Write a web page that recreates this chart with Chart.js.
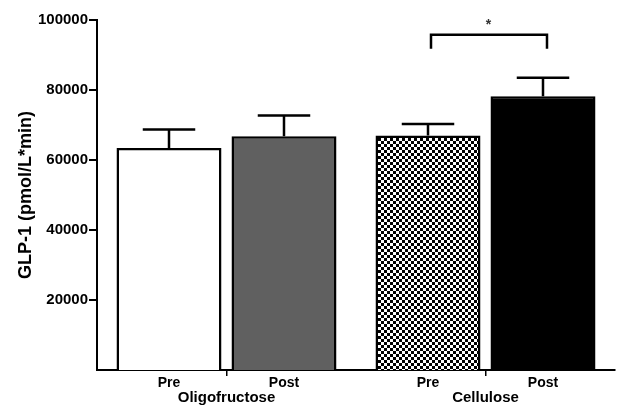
<!DOCTYPE html>
<html>
<head>
<meta charset="utf-8">
<script src="https://cdn.jsdelivr.net/npm/chart.js@4.4.0/dist/chart.umd.min.js"></script>
<style>
    body { margin: 0; background: #fff; }
    #wrap { width: 630px; height: 416px; }
</style>
</head>
<body>
<div id="wrap"><canvas id="glpChart"></canvas></div>
<script>
// data
var groups = ['Oligofructose', 'Cellulose'];
var phases = ['Pre', 'Post'];
var preValues = [63400, 67000];
var postValues = [66800, 78200];
var preErr = [5300, 3300];
var postErr = [5900, 5300];
var yTicks = [20000, 40000, 60000, 80000, 100000];
var sigLevel = 95800;
var sigText = '*';

// checkerboard for cellulose pre
function makeChecker() {
    var c = document.createElement('canvas');
    c.width = 6; c.height = 6;
    var g = c.getContext('2d');
    g.fillStyle = '#fff';
    g.fillRect(0, 0, 6, 6);
    g.fillStyle = '#000';
    g.fillRect(0, 0, 3, 3);
    g.fillRect(3, 3, 3, 3);
    return document.getElementById('glpChart').getContext('2d').createPattern(c, 'repeat');
}
var checker = makeChecker();

var font = 'Arial, "Liberation Sans", sans-serif';

// error bars, pre/post labels, significance bracket
var extras = {
    id: 'extras',
    afterDatasetsDraw: function (chart) {
        var ctx = chart.ctx;
        var y = chart.scales.y;
        var errs = [preErr, postErr];
        var vals = [preValues, postValues];
        ctx.save();
        ctx.strokeStyle = '#000';
        ctx.lineWidth = 2.5;
        for (var d = 0; d < 2; d++) {
            var meta = chart.getDatasetMeta(d);
            meta.data.forEach(function (bar, i) {
                var top = y.getPixelForValue(vals[d][i] + errs[d][i]);
                var base = y.getPixelForValue(vals[d][i]);
                var half = bar.width / 4;
                ctx.beginPath();
                ctx.moveTo(bar.x, base);
                ctx.lineTo(bar.x, top);
                ctx.moveTo(bar.x - half, top);
                ctx.lineTo(bar.x + half, top);
                ctx.stroke();

                ctx.fillStyle = '#000';
                ctx.font = 'bold 14px ' + font;
                ctx.textAlign = 'center';
                ctx.textBaseline = 'middle';
                ctx.fillText(phases[d], bar.x, chart.chartArea.bottom + 13);
            });
        }
        // bracket between cellulose pre and post
        var a = chart.getDatasetMeta(0).data[1];
        var b = chart.getDatasetMeta(1).data[1];
        var ly = y.getPixelForValue(sigLevel);
        var ld = y.getPixelForValue(sigLevel - 4000);
        ctx.beginPath();
        ctx.moveTo(a.x + 3, ld);
        ctx.lineTo(a.x + 3, ly);
        ctx.lineTo(b.x + 4, ly);
        ctx.lineTo(b.x + 4, ld);
        ctx.stroke();
        ctx.font = 'bold 14px ' + font;
        ctx.fillStyle = '#333';
        ctx.textAlign = 'center';
        ctx.textBaseline = 'middle';
        ctx.fillText(sigText, (a.x + b.x) / 2 + 3, ly - 10);
        ctx.restore();
    }
};

new Chart(document.getElementById('glpChart'), {
    type: 'bar',
    data: {
        labels: groups,
        datasets: [{
            label: 'Pre',
            data: preValues,
            backgroundColor: ['#ffffff', checker],
            borderColor: '#000',
            borderWidth: 2.5,
            barPercentage: 0.913,
            categoryPercentage: 0.888
        }, {
            label: 'Post',
            data: postValues,
            backgroundColor: ['#606060', '#000000'],
            borderColor: '#000',
            borderWidth: 2.5,
            barPercentage: 0.913,
            categoryPercentage: 0.888
        }]
    },
    options: {
        responsive: true,
        maintainAspectRatio: false,
        animation: false,
        layout: { padding: { top: 20, right: 15, left: 15, bottom: 0 } },
        plugins: { legend: { display: false }, tooltip: { enabled: false } },
        scales: {
            x: {
                grid: { display: true, drawOnChartArea: false, offset: false, tickLength: 6, color: '#000', lineWidth: 1.5 },
                border: { color: '#000', width: 2 },
                ticks: { color: '#000', font: { family: font, size: 15, weight: 'bold' }, padding: 13 },
                afterFit: function (s) { s.height = 46; }
            },
            y: {
                min: 0,
                max: 100000,
                afterBuildTicks: function (s) { s.ticks = yTicks.map(function (v) { return { value: v }; }); },
                grid: { display: true, drawOnChartArea: false, tickLength: 8, color: '#000', lineWidth: 2 },
                border: { color: '#000', width: 2 },
                ticks: {
                    color: '#000', font: { family: font, size: 15, weight: 'bold' }, padding: 1,
                    callback: function (v) { return String(v); }
                },
                title: { display: true, text: 'GLP-1 (pmol/L*min)', color: '#000', font: { family: font, size: 18, weight: 'bold' }, padding: 0 },
                afterFit: function (s) { s.width = 82; }
            }
        }
    },
    plugins: [extras]
});
</script>
</body>
</html>
